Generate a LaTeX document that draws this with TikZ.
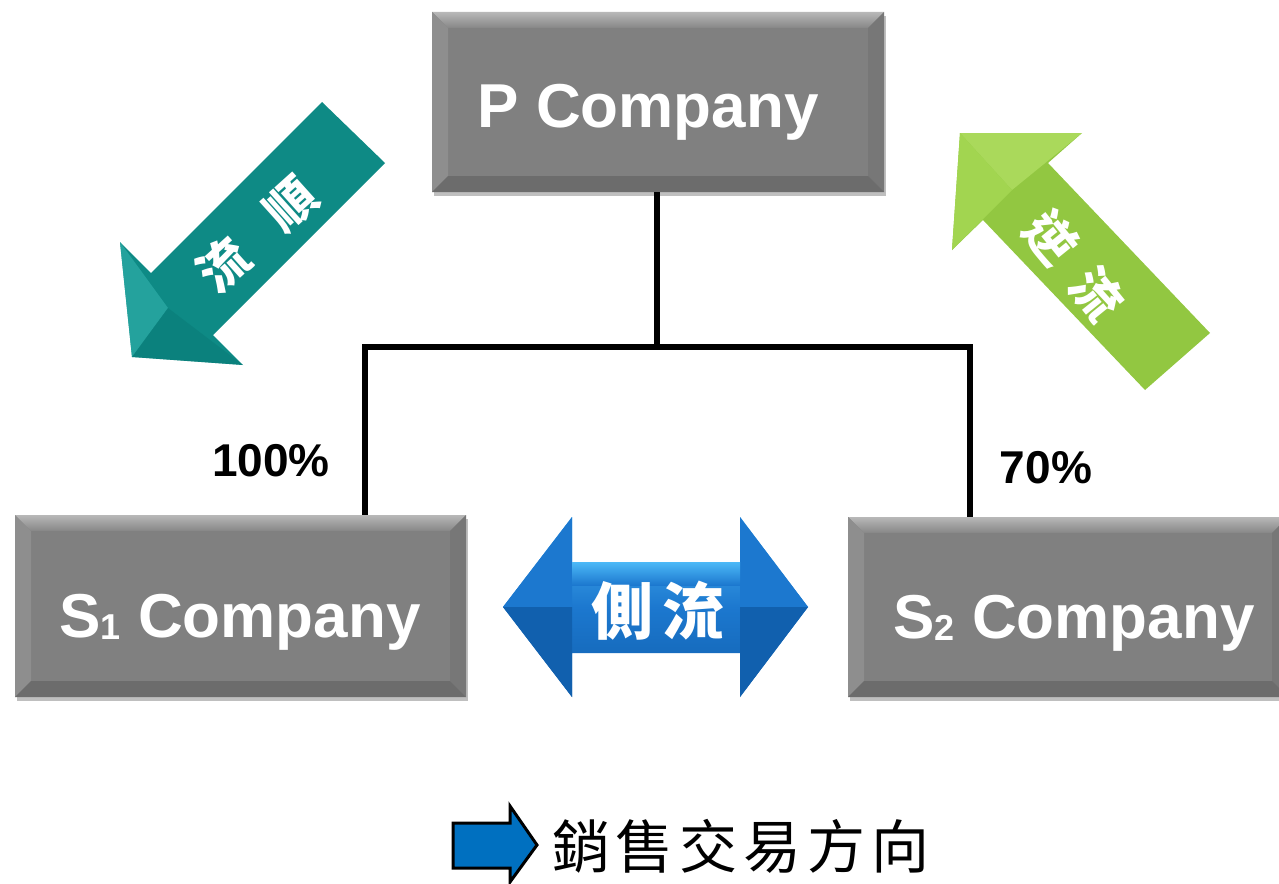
\documentclass[tikz,border=0pt]{standalone}
\usepackage{fontspec}
\setmainfont{Liberation Sans}
\newfontfamily\cjk{Noto Sans CJK TC}
\usetikzlibrary{shadows}
\definecolor{boxgray}{HTML}{808080}
\definecolor{bevtop}{HTML}{B8B8B8}
\definecolor{bevleft}{HTML}{8E8E8E}
\definecolor{bevright}{HTML}{777777}
\definecolor{bevbot}{HTML}{6C6C6C}
\definecolor{tealA}{HTML}{2AA9A4}
\definecolor{tealM}{HTML}{0E8A85}
\definecolor{tealB}{HTML}{0A7C78}
\definecolor{greenA}{HTML}{B0DE62}
\definecolor{greenL}{HTML}{A2D550}
\definecolor{greenM}{HTML}{92C741}
\definecolor{blueL}{HTML}{4CB9F7}
\definecolor{blueM}{HTML}{1C78CF}
\definecolor{blueD}{HTML}{1160AE}
\definecolor{legblue}{HTML}{0070C0}
\tikzset{
  cbox/.style={rectangle, inner sep=0pt, fill=boxgray,
    drop shadow={shadow xshift=2pt, shadow yshift=-4pt, opacity=0.25, fill=black},
    path picture={
      \coordinate (bnw) at (path picture bounding box.north west);
      \coordinate (bne) at (path picture bounding box.north east);
      \coordinate (bsw) at (path picture bounding box.south west);
      \coordinate (bse) at (path picture bounding box.south east);
      \shade[top color=bevtop, bottom color=boxgray!95!white] (bnw) -- (bne) -- ([xshift=-16pt,yshift=-16pt]bne) -- ([xshift=16pt,yshift=-16pt]bnw) -- cycle;
      \fill[bevleft] (bnw) -- ([xshift=16pt,yshift=-16pt]bnw) -- ([xshift=16pt,yshift=16pt]bsw) -- (bsw) -- cycle;
      \fill[bevright] (bne) -- ([xshift=-16pt,yshift=-16pt]bne) -- ([xshift=-16pt,yshift=16pt]bse) -- (bse) -- cycle;
      \fill[bevbot] (bsw) -- ([xshift=16pt,yshift=16pt]bsw) -- ([xshift=-16pt,yshift=16pt]bse) -- (bse) -- cycle;
    }},
  ctext/.style={text=white, font=\bfseries\fontsize{62}{62}\selectfont, anchor=base, inner sep=0pt},
  pct/.style={font=\bfseries\fontsize{46}{46}\selectfont, anchor=base, inner sep=0pt},
  conn/.style={line width=6pt, line join=miter},
  arrowtext/.style={text=white, inner sep=0pt},
}
\begin{document}
\begin{tikzpicture}[x=1pt,y=-1pt]
\useasboundingbox (0,0) rectangle (1279,883);
\fill[white] (0,0) rectangle (1279,883);

% boxes
\node[cbox, minimum width=452pt, minimum height=180pt] (P) at (658,102) {};
\node[cbox, minimum width=451pt, minimum height=182pt] (S1) at (240.5,606) {};
\node[cbox, minimum width=440pt, minimum height=180pt] (S2) at (1068,607) {};
\node[ctext] (Pt) at (648,127) {P Company};
\node[ctext] (S1t) at (240,637) {S\raisebox{-2pt}{\fontsize{36}{36}\selectfont 1} Company};
\node[ctext] (S2t) at (1074,638) {S\raisebox{-2pt}{\fontsize{36}{36}\selectfont 2} Company};

% connectors
\coordinate (J) at (657,347);
\coordinate (L) at (365,347);
\coordinate (R) at (970,347);
\draw[conn] (P.south -| J) -- (J);
\draw[conn] (L |- S1.north) -- (L) -- (R) -- (R |- S2.north);

\node[pct] (p100) at (271,476) {100\%};
\node[pct] (p70) at (1046,483) {70\%};

% teal arrow (down-left)
\fill[tealM]
  (322,102) -- (151,273) -- (120,242) -- (132,357) -- (243,365) -- (213,335) -- (385,163) -- cycle;
\fill[tealA, opacity=0.8] (120,242) -- (132,357) -- (168,308) -- cycle;
\fill[tealB, opacity=0.6] (132,357) -- (243,365) -- (168,308) -- cycle;
\node[arrowtext, rotate=42, font=\cjk\bfseries\fontsize{50}{50}\selectfont] (shun) at (257,234) {流\hspace{40pt}順};

% green arrow (up-left)
\fill[greenM]
  (960,133) -- (1082,133) -- (1048,163) -- (1210,333) -- (1145,390) -- (983,220) -- (952,250) -- cycle;
\fill[greenA, opacity=0.8] (960,133) -- (1082,133) -- (1012,190) -- cycle;
\fill[greenL] (960,133) -- (952,250) -- (1012,190) -- cycle;
\node[arrowtext, rotate=-51, font=\cjk\bfseries\fontsize{50}{50}\selectfont] (ni) at (1074,266) {逆\hspace{22pt}流};

% blue double arrow
\shade[top color=blueL, bottom color=blueD, middle color=blueM]
  (503,607) -- (572,517) -- (572,562) -- (740,562) -- (740,517) -- (808,607) -- (740,697) -- (740,653) -- (572,653) -- (572,697) -- cycle;
\fill[blueM] (503,607) -- (572,517) -- (572,607) -- cycle;
\fill[blueD] (503,607) -- (572,697) -- (572,607) -- cycle;
\fill[blueM] (808,607) -- (740,517) -- (740,607) -- cycle;
\fill[blueD] (808,607) -- (740,697) -- (740,607) -- cycle;
\shade[top color=blueL, bottom color=blueM] (572,562) rectangle (740,585);
\node[arrowtext, font=\cjk\bfseries\fontsize{62}{62}\selectfont] (side) at (658,611) {側\hspace{10pt}流};

% legend
\draw[fill=legblue, line width=3pt, line join=miter]
  (453,823) -- (510,823) -- (510,806) -- (537,845) -- (510,882) -- (510,868) -- (453,868) -- cycle;
\node[font=\cjk\fontsize{58}{58}\selectfont, inner sep=0pt] (leg) at (741,846)
  {銷\hspace{6pt}售\hspace{6pt}交\hspace{6pt}易\hspace{6pt}方\hspace{6pt}向};
\end{tikzpicture}
\end{document}
